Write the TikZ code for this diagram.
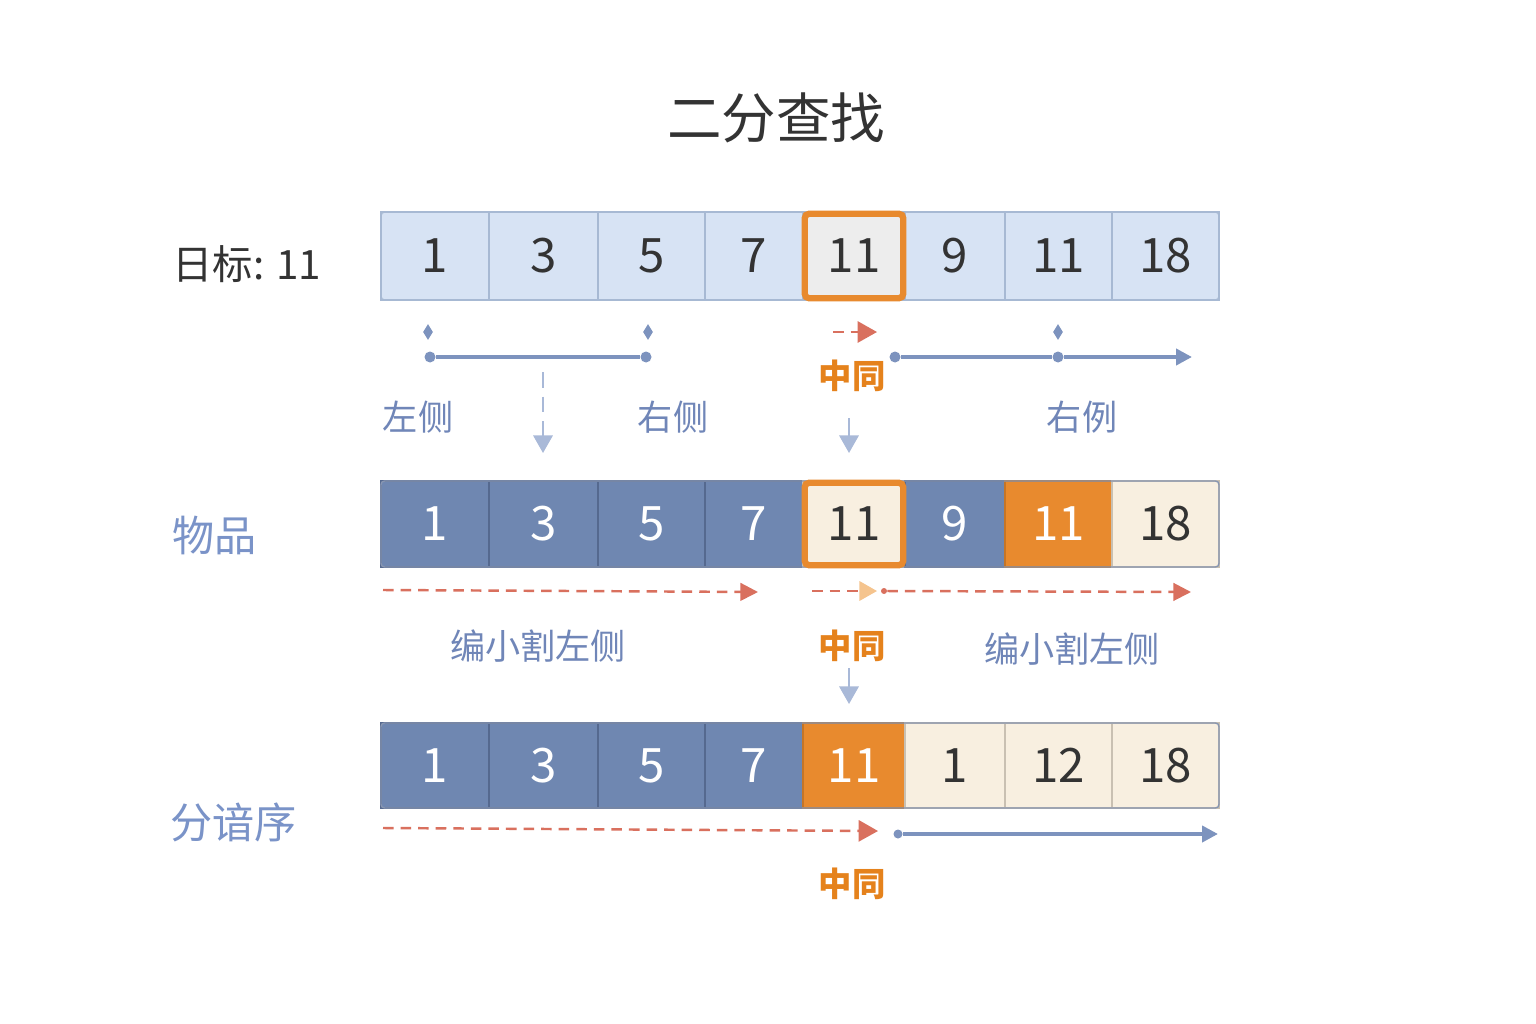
\documentclass[tikz,border=0pt]{standalone}
\usepackage{fontspec}
\setmainfont{Noto Sans CJK SC}
\usetikzlibrary{arrows.meta,shapes.geometric}
\definecolor{lightfill}{HTML}{D7E3F4}
\definecolor{lightborder}{HTML}{A7B9D3}
\definecolor{bluefill}{HTML}{6F87B1}
\definecolor{blueborder}{HTML}{55698F}
\definecolor{creamfill}{HTML}{F8EFE0}
\definecolor{creamborder}{HTML}{C9C0B2}
\definecolor{orangec}{HTML}{E88A2E}
\definecolor{orangetext}{HTML}{E5821C}
\definecolor{redc}{HTML}{D9705E}
\definecolor{lineblue}{HTML}{7D93BE}
\definecolor{arrlight}{HTML}{A9B9D8}
\definecolor{labblue}{HTML}{7086B8}
\definecolor{rowlab}{HTML}{7A93C8}
\definecolor{darktext}{HTML}{333333}
\definecolor{greyfill}{HTML}{EDEDED}
\definecolor{paleorange}{HTML}{F5C48E}
\tikzset{
  cellbase/.style={rectangle, inner sep=0pt, outer sep=0pt, line width=0.6pt, font=\fontsize{27}{29}\selectfont},
  lb/.style={cellbase, fill=lightfill, draw=lightborder, text=darktext},
  bl/.style={cellbase, fill=bluefill, draw=blueborder, text=white},
  cr/.style={cellbase, fill=creamfill, draw=creamborder, text=darktext},
  gr/.style={cellbase, fill=greyfill, draw=lightborder, text=darktext},
  og/.style={cellbase, fill=orangec, draw=orangec!85!black, text=white},
  hl/.style={draw=orangec, line width=3.6pt, rounded corners=2.5pt},
  framebox/.style={line width=0.8pt, rounded corners=2pt},
  midlab/.style={text=orangetext, font=\bfseries\fontsize{19}{21}\selectfont},
  sidelab/.style={text=labblue, font=\fontsize{20}{22}\selectfont},
  rowlabel/.style={text=rowlab, font=\fontsize{24}{26}\selectfont, anchor=west},
  diam/.style={diamond, fill=lineblue, inner sep=0pt, minimum width=0.2cm, minimum height=0.32cm, aspect=0.6},
  blueline/.style={draw=lineblue, line width=2.8pt},
  dotend/.style={fill=lineblue, circle, inner sep=0pt, minimum size=0.22cm},
  reddash/.style={draw=redc, line width=1.4pt, dash pattern=on 6pt off 4pt},
  redtip/.style={-{Triangle[length=10pt,width=10pt,color=redc]}},
  downarr/.style={draw=arrlight, line width=1.3pt, -{Triangle[length=10pt,width=11pt,color=arrlight]}},
}
\begin{document}
\begin{tikzpicture}[x=0.02cm,y=-0.02cm]
\useasboundingbox[fill=white] (0,0) rectangle (1536,1024);

% title
\node[text=darktext, font=\fontsize{31}{33}\selectfont] (title) at (776,118) {二分查找};

% row labels
\node[text=darktext, font=\fontsize{23}{25}\selectfont, anchor=west] (target) at (166,264) {日标: 11};
\node[rowlabel] (lab2) at (166,535) {物品};
\node[rowlabel] (lab3) at (164,822) {分谙序};

% row 1
\foreach \l/\r/\v/\s [count=\i] in {381/489/1/lb, 489/598/3/lb, 598/705/5/lb, 705/803/7/lb, 803/905/11/gr, 905/1005/9/lb, 1005/1112/11/lb, 1112/1219/18/lb}{
  \node[\s, minimum width={(\r-\l)*0.02cm}, minimum height={88*0.02cm}] (a\i) at ({(\l+\r)/2},256) {\v};
}
\draw[framebox, draw=lightborder] (a1.north west) rectangle (a8.south east);
\draw[hl] ([xshift=1pt,yshift=-1pt]a5.north west) rectangle ([xshift=-1pt,yshift=1pt]a5.south east);

% row 2
\foreach \l/\r/\v/\s [count=\i] in {381/489/1/bl, 489/598/3/bl, 598/705/5/bl, 705/803/7/bl, 803/905/11/cr, 905/1005/9/bl, 1005/1112/11/og, 1112/1219/18/cr}{
  \node[\s, minimum width={(\r-\l)*0.02cm}, minimum height={86*0.02cm}] (b\i) at ({(\l+\r)/2},524) {\v};
}
\draw[framebox, draw=blueborder!70] (b1.north west) rectangle (b8.south east);
\draw[hl] ([xshift=1pt,yshift=-1pt]b5.north west) rectangle ([xshift=-1pt,yshift=1pt]b5.south east);

% row 3
\foreach \l/\r/\v/\s [count=\i] in {381/489/1/bl, 489/598/3/bl, 598/705/5/bl, 705/803/7/bl, 803/905/11/og, 905/1005/1/cr, 1005/1112/12/cr, 1112/1219/18/cr}{
  \node[\s, minimum width={(\r-\l)*0.02cm}, minimum height={85*0.02cm}] (c\i) at ({(\l+\r)/2},765.5) {\v};
}
\draw[framebox, draw=blueborder!70] (c1.north west) rectangle (c8.south east);

% annotations row 1
\node[diam] (d1) at (428,332) {};
\node[diam] (d2) at (648,332) {};
\node[diam] (d3) at (1058,332) {};
\node[dotend] (p1) at (430,357) {};
\node[dotend] (p2) at (646,357) {};
\draw[blueline] (p1) -- (p2);
\node[dotend] (p3) at (895,357) {};
\node[dotend] (p4) at (1058,357) {};
\coordinate (p5) at (1192,357);
\draw[blueline] (p3) -- (p4);
\draw[blueline, -{Triangle[length=9pt,width=9pt]}] (p4) -- (p5);
\coordinate (r1s) at (833,332);
\coordinate (r1e) at (877,332);
\draw[reddash, -{Triangle[length=11pt,width=12pt,color=redc]}] (r1s) -- (r1e);
\node[midlab] (m1) at (852,376) {中同};
\node[sidelab] (s1) at (418,417) {左侧};
\node[sidelab] (s2) at (673,417) {右侧};
\node[sidelab] (s3) at (1082,417) {右例};
\coordinate (v1s) at (543,372);
\coordinate (v1e) at (543,453);
\draw[downarr, dash pattern=on 9pt off 5pt] (v1s) -- (v1e);
\coordinate (v2s) at (849,418);
\coordinate (v2e) at (849,453);
\draw[downarr] (v2s) -- (v2e);

% annotations row 2
\coordinate (r2s) at (383,590);
\coordinate (r2e) at (758,592);
\draw[reddash, redtip] (r2s) -- (r2e);
\coordinate (r3s) at (812,591);
\coordinate (r3e) at (877,591);
\draw[reddash, -{Triangle[length=10pt,width=11pt,color=paleorange]}] (r3s) -- (r3e);
\node[circle, fill=redc, inner sep=0pt, minimum size=0.12cm] (rdot) at (884,591) {};
\coordinate (r4e) at (1191,592);
\draw[reddash, redtip] (rdot) -- (r4e);
\node[sidelab] (s4) at (538,646) {编小割左侧};
\node[midlab] (m2) at (852,646) {中同};
\node[sidelab] (s5) at (1072,649) {编小割左侧};
\coordinate (v3s) at (849,668);
\coordinate (v3e) at (849,704);
\draw[downarr] (v3s) -- (v3e);

% annotations row 3
\coordinate (r5s) at (383,828);
\coordinate (r5e) at (878,831);
\draw[reddash, -{Triangle[length=11pt,width=12pt,color=redc]}] (r5s) -- (r5e);
\node[dotend, minimum size=0.18cm] (p6) at (898,834) {};
\coordinate (p7) at (1218,834);
\draw[blueline, -{Triangle[length=9pt,width=9pt]}] (p6) -- (p7);
\node[midlab] (m3) at (852,884) {中同};
\end{tikzpicture}
\end{document}
